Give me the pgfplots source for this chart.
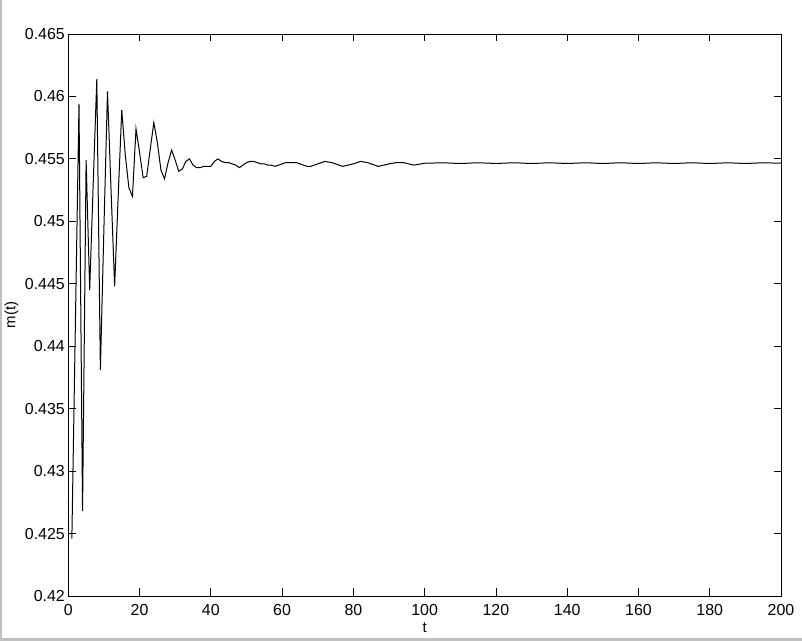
\documentclass[border=0pt]{standalone}
\usepackage{pgfplots}
\pgfplotsset{compat=1.18}
\usepackage{fontspec}
\setmainfont{Liberation Sans}

\begin{document}
\begin{tikzpicture}
\begin{axis}[
    at={(68.3bp,45bp)},
    anchor=south west,
    scale only axis,
    width=712.7bp,
    height=562bp,
    xmin=0, xmax=200,
    ymin=0.42, ymax=0.465,
    xtick={0,20,...,200},
    ytick={0.42,0.425,0.43,0.435,0.44,0.445,0.45,0.455,0.46,0.465},
    scaled y ticks=false,
    /pgf/number format/assume math mode=true,
    yticklabel style={/pgf/number format/fixed,/pgf/number format/precision=3},
    xticklabel style={yshift=-5bp},
    tick label style={font=\fontsize{16}{18}\selectfont},
    label style={font=\fontsize{15}{17}\selectfont},
    tick align=inside,
    major tick length=7.5bp,
    tick style={black, line width=0.8bp},
    axis line style={line width=0.8bp},
    xlabel={t},
    ylabel={m(t)},
    xlabel style={at={(axis description cs:0.5,-0.057)}, anchor=center},
    ylabel style={at={(axis description cs:-0.0797,0.5)}, anchor=center},
]
\addplot[black, line width=1bp] coordinates {
(1,0.4246) (2,0.4420) (3,0.4594) (4,0.4268) (5,0.4549) (6,0.4445)
(7,0.4531) (8,0.4614) (9,0.4381) (10,0.4495) (11,0.4604) (12,0.4525)
(13,0.4448) (14,0.4520) (15,0.4589) (16,0.4553) (17,0.4527) (18,0.4520)
(19,0.4574) (20,0.4555) (21,0.4535) (22,0.4536) (23,0.4558) (24,0.4579)
(25,0.4563) (26,0.4541) (27,0.4534) (28,0.4547) (29,0.4557) (30,0.4549)
(31,0.4540) (32,0.4542) (33,0.4548) (34,0.4550) (35,0.4545) (36,0.4543)
(37,0.4543) (38,0.4544) (39,0.4544) (40,0.4544) (41,0.4548) (42,0.4550)
(43,0.4548) (44,0.4547) (45,0.4547) (46,0.4546) (47,0.4545) (48,0.4543)
(49,0.4545) (50,0.4547) (51,0.4548) (52,0.4548) (53,0.4547) (54,0.4546)
(55,0.4546) (56,0.4545) (57,0.4545) (58,0.4544) (59,0.4545) (60,0.4546)
(61,0.4547) (62,0.4547) (63,0.4547) (64,0.4547) (65,0.4546) (66,0.4545)
(67,0.4544) (68,0.4544) (70,0.4546) (72,0.4548) (74,0.4547) (77,0.4544)
(80,0.4546) (82,0.4548) (84,0.4547) (87,0.4544) (90,0.4546) (92,0.4547)
(94,0.4547) (97,0.4545) (100,0.45465) (105,0.45469) (110,0.45463)
(115,0.45469) (120,0.45463) (125,0.45469) (130,0.45463) (135,0.45469)
(140,0.45463) (145,0.45469) (150,0.45463) (155,0.45469) (160,0.45463)
(165,0.45469) (170,0.45463) (175,0.45469) (180,0.45463) (185,0.45469)
(190,0.45463) (195,0.45469) (200,0.45465)
};
\end{axis}
\fill[black!25] (0,0) rectangle (802bp,2.5bp);
\fill[black!25] (0,0) rectangle (2bp,641bp);
\pgfresetboundingbox
\path[use as bounding box] (0,0) rectangle (802bp,641bp);
\end{tikzpicture}
\end{document}
